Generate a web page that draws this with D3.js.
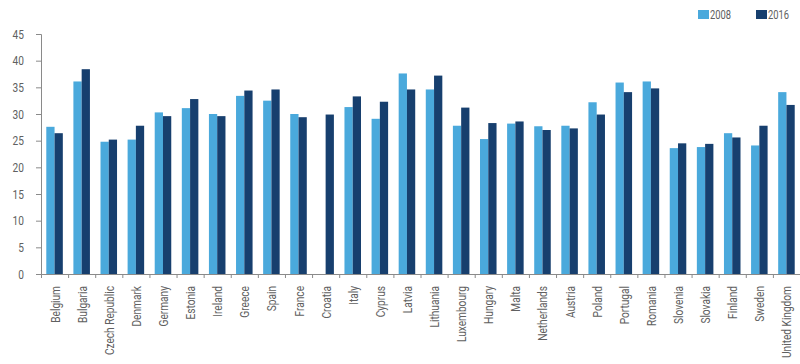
<!DOCTYPE html>
<html>
<head>
<meta charset="utf-8">
<script src="https://cdn.jsdelivr.net/npm/d3@7"></script>
<style>
  body { margin: 0; background: #fff; }
  svg text { font-family: Roboto, 'Liberation Sans', sans-serif; fill: #606060; }
  .axis path, .axis line { stroke: #8a8a8a; }
</style>
</head>
<body>
<div id="chart"></div>
<script>

const countries = ['Belgium', 'Bulgaria', 'Czech Republic', 'Denmark', 'Germany', 'Estonia', 'Ireland',
  'Greece', 'Spain', 'France', 'Croatia', 'Italy', 'Cyprus', 'Latvia', 'Lithuania', 'Luxembourg',
  'Hungary', 'Malta', 'Netherlands', 'Austria', 'Poland', 'Portugal', 'Romania', 'Slovenia',
  'Slovakia', 'Finland', 'Sweden', 'United Kingdom'];

const years = ['2008', '2016'];

const values2008 = [27.6, 36.1, 24.8, 25.2, 30.3, 31.1, 30.0, 33.4, 32.5, 30.0, null, 31.3, 29.1, 37.6,
  34.6, 27.8, 25.3, 28.2, 27.7, 27.8, 32.2, 35.9, 36.1, 23.6, 23.8, 26.4, 24.1, 34.1];

const values2016 = [26.4, 38.4, 25.2, 27.8, 29.6, 32.8, 29.6, 34.4, 34.6, 29.4, 29.9, 33.3, 32.3, 34.6,
  37.2, 31.2, 28.3, 28.6, 27.0, 27.3, 29.9, 34.1, 34.8, 24.5, 24.4, 25.6, 27.8, 31.7];

const yTicks = [0, 5, 10, 15, 20, 25, 30, 35, 40, 45];

const colors = ['#4aa9dc', '#173f6e'];

const W = 800, H = 364;
const margin = { top: 34, right: 0, bottom: 90, left: 41 };
const SQUEEZE = 0.78;   // the original uses a condensed face

const svg = d3.select('#chart').append('svg')
  .attr('width', W)
  .attr('height', H);

const x = d3.scaleBand()
  .domain(countries)
  .range([margin.left, W - margin.right])
  .paddingInner(0.39)
  .paddingOuter(0.195);

const xSub = d3.scaleBand()
  .domain(years)
  .range([0, x.bandwidth()]);

const y = d3.scaleLinear()
  .domain([0, 45])
  .range([H - margin.bottom, margin.top]);

const series = [values2008, values2016];

// bars
const groups = svg.append('g')
  .selectAll('g')
  .data(countries)
  .enter().append('g')
    .attr('transform', (d) => `translate(${x(d)},0)`);

groups.selectAll('rect')
  .data((d, i) => years.map((yr, k) => ({ year: yr, value: series[k][i], k })))
  .enter().filter((d) => d.value != null).append('rect')
    .attr('x', (d) => xSub(d.year))
    .attr('width', xSub.bandwidth())
    .attr('y', (d) => y(d.value))
    .attr('height', (d) => y(0) - y(d.value))
    .attr('fill', (d) => colors[d.k]);

// y axis
const yAxis = svg.append('g')
  .classed('axis', true)
  .attr('transform', `translate(${margin.left},0)`)
  .call(d3.axisLeft(y).tickValues(yTicks).tickSize(5).tickSizeOuter(5).tickPadding(12));

yAxis.selectAll('text')
  .style('font-size', '13px')
  .attr('x', -17 / SQUEEZE)
  .attr('transform', `scale(${SQUEEZE},1)`);

// x axis, ticks on band boundaries
const step = x.step();
const x0 = margin.left;
const boundaries = d3.range(countries.length + 1).map((i) => x0 + i * step);

const xAxis = svg.append('g').classed('axis', true);

xAxis.append('line')
  .attr('x1', x0).attr('x2', W - margin.right)
  .attr('y1', y(0) + 0.5).attr('y2', y(0) + 0.5);

xAxis.selectAll('.tick')
  .data(boundaries)
  .enter().append('line')
    .attr('x1', (d) => d + 0.5).attr('x2', (d) => d + 0.5)
    .attr('y1', y(0)).attr('y2', y(0) + 4);

xAxis.selectAll('text')
  .data(countries)
  .enter().append('text')
    .attr('transform', (d) => `translate(${x(d) + x.bandwidth() / 2 + 5},${y(0) + 12}) rotate(-90) scale(${SQUEEZE},1)`)
    .attr('text-anchor', 'end')
    .style('font-size', '13px')
    .text((d) => d);

// legend
const legend = svg.append('g')
  .selectAll('g')
  .data(years)
  .enter().append('g')
    .attr('transform', (d, i) => `translate(${698 + i * 58},10)`);

legend.append('rect')
  .attr('width', 11)
  .attr('height', 9)
  .attr('fill', (d, i) => colors[i]);

legend.append('text')
  .attr('x', 12 / SQUEEZE)
  .attr('y', 9)
  .attr('transform', `scale(${SQUEEZE},1)`)
  .style('font-size', '12px')
  .text((d) => d);

</script>
</body>
</html>
